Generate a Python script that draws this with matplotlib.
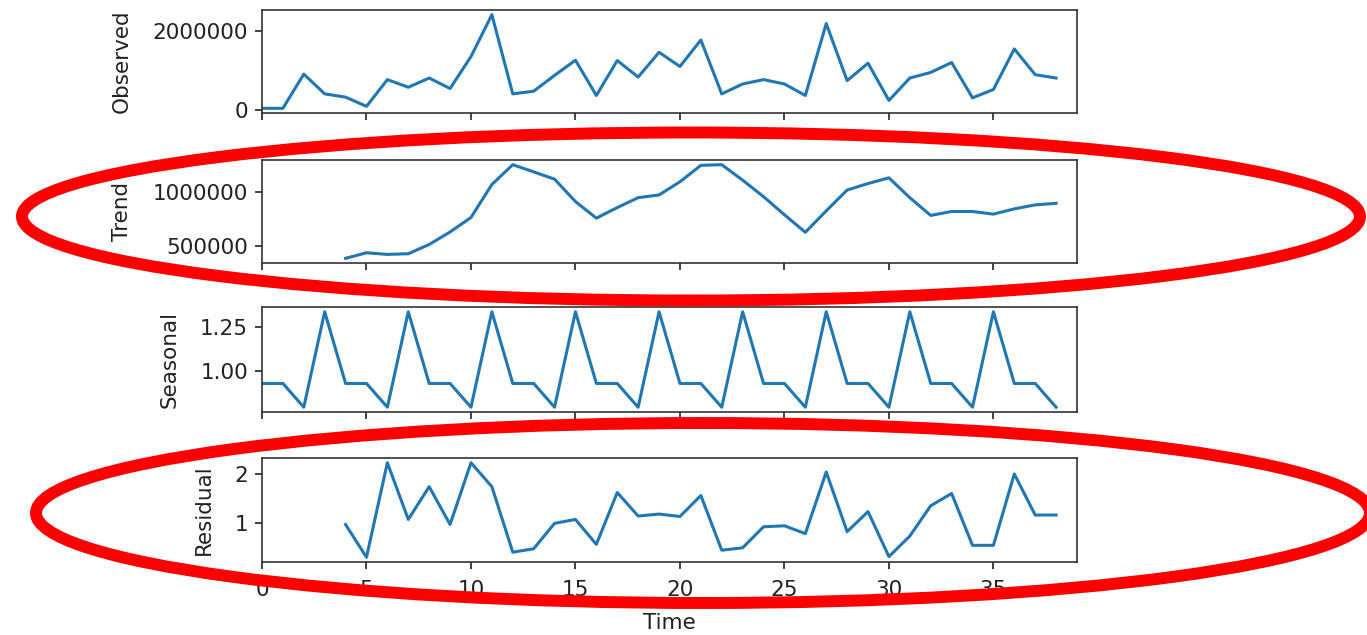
import numpy as np
import matplotlib
matplotlib.use('Agg')
import matplotlib.pyplot as plt
from matplotlib.patches import Ellipse

# values (index 0..38)
time = list(range(39))

observed = [50000, 50000, 908000, 412000, 330000, 99000, 769000, 578000, 809000, 546000,
            1347000, 2397000, 412000, 479000, 876000, 1256000, 372000, 1248000, 834000, 1454000,
            1099000, 1762000, 412000, 660000, 769000, 660000, 372000, 2174000, 744000, 1181000,
            248000, 809000, 950000, 1198000, 313000, 521000, 1538000, 893000, 809000]

trend = [np.nan, np.nan, np.nan, np.nan, 391000, 442000, 427000, 433000, 518000, 633000,
         766000, 1069000, 1251000, 1185000, 1118000, 912000, 760000, 857000, 948000, 973000,
         1094000, 1245000, 1251000, 1109000, 957000, 791000, 630000, 827000, 1018000, 1078000,
         1130000, 948000, 785000, 821000, 821000, 797000, 845000, 882000, 896000]

seasonal = [0.932, 0.932, 0.797, 1.339, 0.932, 0.932, 0.797, 1.339, 0.932, 0.932,
            0.797, 1.339, 0.932, 0.932, 0.797, 1.339, 0.932, 0.932, 0.797, 1.339,
            0.932, 0.932, 0.797, 1.339, 0.932, 0.932, 0.797, 1.339, 0.932, 0.932,
            0.797, 1.339, 0.932, 0.932, 0.797, 1.339, 0.932, 0.932, 0.797]

residual = [np.nan, np.nan, np.nan, np.nan, 0.966, 0.296, 2.23, 1.07, 1.74, 0.966,
            2.23, 1.74, 0.40, 0.47, 0.99, 1.07, 0.56, 1.62, 1.14, 1.18,
            1.13, 1.56, 0.44, 0.49, 0.92, 0.94, 0.78, 2.04, 0.82, 1.23,
            0.31, 0.73, 1.35, 1.60, 0.54, 0.54, 2.0, 1.16, 1.16]

panel_names = ['Observed', 'Trend', 'Seasonal', 'Residual']
panel_yticks = [[0, 2000000], [500000, 1000000], [1.00, 1.25], [1, 2]]
xticks = [0, 5, 10, 15, 20, 25, 30, 35]

W, H = 1367, 635
FS = 15.5

fig = plt.figure(figsize=(W / 100, H / 100), dpi=100)

# axes boxes in pixels (top, bottom)
boxes = [(10, 113), (160, 263), (307, 412), (458, 562)]
left, right = 262, 1077

series = [observed, trend, seasonal, residual]
axes = []
for i, (top, bot) in enumerate(boxes):
    ax = fig.add_axes([left / W, 1 - bot / H, (right - left) / W, (bot - top) / H])
    ax.plot(time, series[i], color='#1f77b4', lw=2.2)
    ax.set_xlim(0, 39)
    ax.set_yticks(panel_yticks[i])
    if i == 2:
        ax.set_yticklabels(['1.00', '1.25'])
    else:
        ax.set_yticklabels([str(t) for t in panel_yticks[i]])
    ax.set_xticks(xticks)
    ax.set_ylabel(panel_names[i], fontsize=FS, color='#222222', labelpad=15)
    ax.tick_params(labelsize=FS, length=5, width=1.2, pad=5, colors='#222222')
    ax.tick_params(axis='x', pad=8)
    if i < 3:
        ax.tick_params(axis='x', labelbottom=False)
    for s in ax.spines.values():
        s.set_linewidth(1.2)
        s.set_color('#333333')
    axes.append(ax)

axes[-1].set_xlabel('Time', fontsize=FS, color='#222222', labelpad=9)

# red hand-drawn-style ellipses over trend and residual panels
for cx, cy, ew, eh in [(691, 216.5, 1338, 168), (703, 513, 1334, 180)]:
    e = Ellipse((cx / W, 1 - cy / H), ew / W, eh / H, transform=fig.transFigure,
                fill=False, ec='#ff0000', lw=8.6, clip_on=False)
    fig.add_artist(e)

fig.savefig('out.png', dpi=100)
